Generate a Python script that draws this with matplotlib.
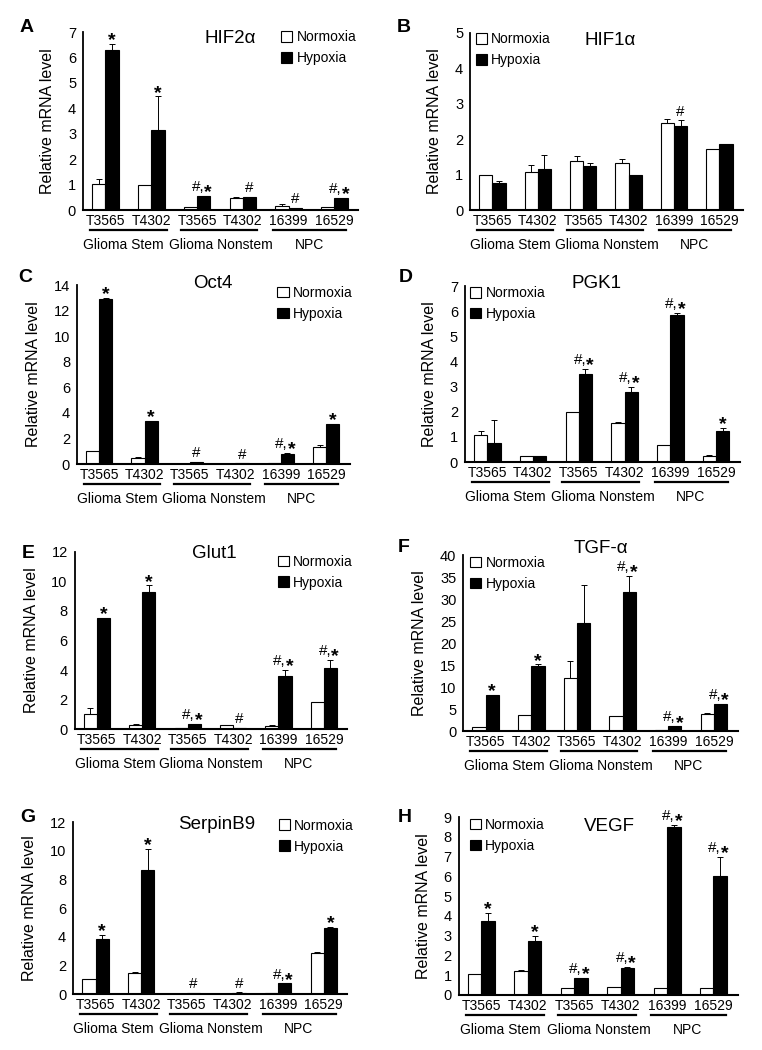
import matplotlib.pyplot as plt
import matplotlib.transforms as mtransforms
from matplotlib.patches import Patch
from matplotlib.textpath import TextPath
from matplotlib.font_manager import FontProperties

plt.rcParams['font.family'] = ['Liberation Sans', 'DejaVu Sans']

cell_lines = ['T3565', 'T4302', 'T3565', 'T4302', '16399', '16529']
groups = ['Glioma Stem', 'Glioma Nonstem', 'NPC']
group_spans = [(-0.34, 1.34), (1.64, 3.32), (3.66, 5.26)]
group_text_x = [0.4, 2.52, 4.45]

# values; *_err is the upward error bar length
hif2a_norm = [1.03, 0.99, 0.12, 0.48, 0.15, 0.12]
hif2a_norm_err = [0.17, 0, 0, 0.02, 0.07, 0]
hif2a_hyp = [6.3, 3.15, 0.55, 0.5, 0.08, 0.48]
hif2a_hyp_err = [0.23, 1.32, 0.02, 0, 0, 0]
hif2a_marks = ['*', '*', '#,*', '#', '#', '#,*']

hif1a_norm = [1.0, 1.06, 1.37, 1.34, 2.45, 1.72]
hif1a_norm_err = [0, 0.21, 0.16, 0.09, 0.12, 0.01]
hif1a_hyp = [0.75, 1.15, 1.25, 1.0, 2.38, 1.87]
hif1a_hyp_err = [0.08, 0.39, 0.07, 0, 0.15, 0]
hif1a_marks = ['', '', '', '', '#', '']

oct4_norm = [1.0, 0.5, 0.03, 0.01, 0.05, 1.35]
oct4_norm_err = [0.03, 0.05, 0, 0, 0, 0.12]
oct4_hyp = [12.9, 3.4, 0.15, 0.05, 0.78, 3.1]
oct4_hyp_err = [0.1, 0, 0, 0, 0.12, 0.06]
oct4_marks = ['*', '*', '#', '#', '#,*', '*']

pgk1_norm = [1.06, 0.22, 1.98, 1.55, 0.66, 0.25]
pgk1_norm_err = [0.16, 0, 0, 0.03, 0.01, 0.03]
pgk1_hyp = [0.75, 0.22, 3.49, 2.78, 5.85, 1.23]
pgk1_hyp_err = [0.93, 0, 0.2, 0.2, 0.09, 0.12]
pgk1_marks = ['', '', '#,*', '#,*', '#,*', '*']

glut1_norm = [1.04, 0.3, 0.1, 0.25, 0.22, 1.81]
glut1_norm_err = [0.38, 0.03, 0, 0.05, 0.05, 0.02]
glut1_hyp = [7.53, 9.29, 0.35, 0.08, 3.62, 4.14]
glut1_hyp_err = [0, 0.45, 0, 0, 0.4, 0.56]
glut1_marks = ['*', '*', '#,*', '#', '#,*', '#,*']

tgfa_norm = [0.98, 3.7, 12.05, 3.4, 0.15, 3.9]
tgfa_norm_err = [0, 0, 3.95, 0, 0, 0.1]
tgfa_hyp = [8.26, 14.8, 24.6, 31.5, 1.06, 6.2]
tgfa_hyp_err = [0, 0.35, 8.7, 3.8, 0, 0]
tgfa_marks = ['*', '*', '', '#,*', '#,*', '#,*']

serpinb9_norm = [1.04, 1.48, 0.02, 0.03, 0.08, 2.83]
serpinb9_norm_err = [0, 0.05, 0, 0, 0, 0.08]
serpinb9_hyp = [3.87, 8.68, 0.06, 0.09, 0.74, 4.64]
serpinb9_hyp_err = [0.23, 1.42, 0, 0.02, 0, 0.04]
serpinb9_marks = ['*', '*', '#', '#', '#,*', '*']

vegf_norm = [1.05, 1.22, 0.35, 0.42, 0.33, 0.33]
vegf_norm_err = [0, 0.02, 0.02, 0, 0, 0]
vegf_hyp = [3.72, 2.74, 0.85, 1.35, 8.48, 6.03]
vegf_hyp_err = [0.42, 0.25, 0, 0.07, 0.12, 0.97]
vegf_marks = ['*', '*', '#,*', '#,*', '#,*', '#,*']

# letter, title, data, yticks, axes rect (fig fraction), title pos, legend anchor, letter pos (px)
panels = [
    ('A', 'HIF2\u03b1', hif2a_norm, hif2a_norm_err, hif2a_hyp, hif2a_hyp_err, hif2a_marks,
     range(0, 8), [0.109, 0.800, 0.361, 0.1695], (0.535, 0.966), (0.72, 1.01), (27, 27)),
    ('B', 'HIF1\u03b1', hif1a_norm, hif1a_norm_err, hif1a_hyp, hif1a_hyp_err, hif1a_marks,
     range(0, 6), [0.617, 0.800, 0.358, 0.1686], (0.513, 0.96), (0.02, 1.005), (404, 27)),
    ('C', 'Oct4', oct4_norm, oct4_norm_err, oct4_hyp, oct4_hyp_err, oct4_marks,
     range(0, 15, 2), [0.101, 0.558, 0.358, 0.1705], (0.498, 1.011), (0.735, 0.995), (25, 277)),
    ('D', 'PGK1', pgk1_norm, pgk1_norm_err, pgk1_hyp, pgk1_hyp_err, pgk1_marks,
     range(0, 8), [0.610, 0.560, 0.361, 0.1676], (0.48, 1.017), (0.02, 1.0), (406, 277)),
    ('E', 'Glut1', glut1_norm, glut1_norm_err, glut1_hyp, glut1_hyp_err, glut1_marks,
     range(0, 13, 2), [0.098, 0.3057, 0.358, 0.1686], (0.513, 0.994), (0.745, 0.985), (28, 553)),
    ('F', 'TGF-\u03b1', tgfa_norm, tgfa_norm_err, tgfa_hyp, tgfa_hyp_err, tgfa_marks,
     range(0, 41, 5), [0.608, 0.3038, 0.360, 0.1676], (0.50, 1.035), (0.025, 0.995), (404, 548)),
    ('G', 'SerpinB9', serpinb9_norm, serpinb9_norm_err, serpinb9_hyp, serpinb9_hyp_err, serpinb9_marks,
     range(0, 13, 2), [0.096, 0.0533, 0.360, 0.1638], (0.525, 0.983), (0.75, 1.02), (28, 818)),
    ('H', 'VEGF', vegf_norm, vegf_norm_err, vegf_hyp, vegf_hyp_err, vegf_marks,
     range(0, 10), [0.602, 0.0524, 0.366, 0.1695], (0.541, 0.944), (0.04, 0.995), (405, 817)),
]

# bold asterisk sits high in its em box; find where its ink starts
star_size = 14
star_fp = FontProperties(family='Liberation Sans', weight='bold', size=star_size)
star_ymin = TextPath((0, 0), '*', size=star_size, prop=star_fp).get_extents().y0
gap = 3.5

fig = plt.figure(figsize=(7.62, 10.5), dpi=100)
x = list(range(len(cell_lines)))
w = 0.29

for (letter, title, norm, norm_err, hyp, hyp_err, marks, yticks, rect,
     tpos, lpos, lettpos) in panels:
    ax = fig.add_axes(rect)
    xn = [i - w / 2 for i in x]
    xh = [i + w / 2 for i in x]
    ax.bar(xn, norm, w, color='white', edgecolor='black', linewidth=0.8,
           yerr=[[0] * 6, norm_err], error_kw=dict(elinewidth=0.7, capsize=2, capthick=0.7))
    ax.bar(xh, hyp, w, color='black', edgecolor='black', linewidth=0.8,
           yerr=[[0] * 6, hyp_err], error_kw=dict(elinewidth=0.7, capsize=2, capthick=0.7))
    for i in x:
        m = marks[i]
        top = hyp[i] + hyp_err[i]
        if m == '*':
            ax.annotate('*', (xh[i], top), xytext=(0, gap - star_ymin), textcoords='offset points',
                        ha='center', va='baseline', fontproperties=star_fp)
        elif m == '#':
            ax.annotate('#', (xh[i], top), xytext=(0, gap), textcoords='offset points',
                        ha='center', va='baseline', fontsize=11)
        elif m == '#,*':
            ax.annotate('#,', (xh[i], top), xytext=(0.5, gap), textcoords='offset points',
                        ha='right', va='baseline', fontsize=11)
            ax.annotate('*', (xh[i], top), xytext=(0.5, gap - star_ymin), textcoords='offset points',
                        ha='left', va='baseline', fontproperties=star_fp)

    ax.set_xlim(-0.49, 5.52)
    ax.set_ylim(0, max(yticks))
    ax.set_yticks(list(yticks))
    ax.set_xticks(x)
    ax.set_xticklabels(cell_lines, fontsize=10)
    ax.tick_params(axis='x', length=0, pad=3)
    ax.tick_params(axis='y', labelsize=10.5, length=0, pad=5)
    for s in ['top', 'right']:
        ax.spines[s].set_visible(False)
    ax.spines['left'].set_linewidth(1.3)
    ax.spines['bottom'].set_linewidth(1.5)
    ax.set_ylabel('Relative mRNA level', fontsize=11.5, labelpad=9)

    line_tr = ax.get_xaxis_transform() + mtransforms.ScaledTranslation(0, -0.20, fig.dpi_scale_trans)
    text_tr = ax.get_xaxis_transform() + mtransforms.ScaledTranslation(0, -0.35, fig.dpi_scale_trans)
    for name, (a, b), tx in zip(groups, group_spans, group_text_x):
        ax.plot([a, b], [0, 0], color='black', lw=1.6, transform=line_tr, clip_on=False)
        ax.text(tx, 0, name, transform=text_tr, ha='center', va='center', fontsize=10)

    ax.text(tpos[0], tpos[1], title, transform=ax.transAxes, ha='center', va='center', fontsize=13.5)
    handles = [Patch(facecolor='white', edgecolor='black', linewidth=0.8, label='Normoxia'),
               Patch(facecolor='black', edgecolor='black', linewidth=0.8, label='Hypoxia')]
    ax.legend(handles=handles, loc='upper left', bbox_to_anchor=lpos, frameon=False,
              fontsize=10, handlelength=0.8, handleheight=0.8, handletextpad=0.3,
              labelspacing=0.5, borderpad=0, borderaxespad=0)
    fig.text(lettpos[0] / 762, 1 - lettpos[1] / 1050, letter, ha='center', va='center',
             fontsize=14, fontweight='bold')

fig.savefig('out.png', dpi=100)
